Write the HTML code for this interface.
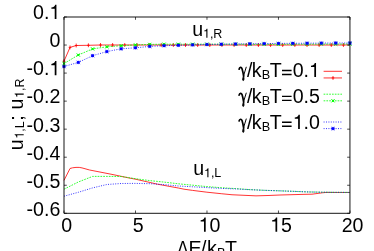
<!DOCTYPE html>
<html><head><meta charset="utf-8"><title>plot</title>
<style>html,body{margin:0;padding:0;background:#fff;overflow:hidden}svg{display:block;will-change:transform}text{font-family:"Liberation Sans",sans-serif;fill:#000}</style></head><body>
<svg width="374" height="251" viewBox="0 0 374 251">
<polyline points="64.00,180.40 70.00,168.50 72.50,167.80 76.00,167.40 79.20,167.40 82.00,167.90 89.60,170.00 112.00,174.40 128.70,177.90 136.00,179.30 157.50,184.20 178.30,188.00 184.00,189.20 192.60,190.40 206.90,192.20 221.20,193.70 232.00,194.75 246.00,195.40 256.00,195.85 268.00,195.50 280.00,195.00 304.00,194.35 312.00,194.20 322.30,192.80 326.00,192.45 349.85,192.50" fill="none" stroke="#ff0000" stroke-width="0.80"/>
<polyline points="64.00,189.20 78.30,182.00 92.59,176.40 106.89,176.40 121.19,176.50 135.49,178.70 149.78,180.60 164.08,182.10 178.38,183.80 192.68,185.20 206.97,186.60 221.27,187.70 235.57,188.60 249.87,189.60 264.16,190.30 278.46,190.80 292.76,191.30 307.06,191.90 321.35,192.20 335.65,192.35 349.95,192.40" fill="none" stroke="#00ff00" stroke-width="0.80" stroke-dasharray="1.7,1.1"/>
<polyline points="64.00,196.20 78.30,192.30 92.59,187.90 106.89,184.50 121.19,183.50 135.49,183.40 149.78,183.70 164.08,184.60 178.38,186.00 192.68,186.80 206.97,187.60 221.27,188.40 235.57,188.90 249.87,189.70 264.16,190.30 278.46,190.80 292.76,191.30 307.06,191.90 321.35,192.20 335.65,192.35 349.95,192.40" fill="none" stroke="#0000ff" stroke-width="0.80" stroke-dasharray="1.0,1.4"/>
<polyline points="64.00,61.20 70.00,47.40 76.20,45.50 88.40,45.30 100.50,45.00 112.60,45.00 124.75,45.00 136.90,45.00 149.05,45.00 161.20,45.00 173.35,45.00 185.50,45.00 197.65,45.00 209.80,45.00 221.95,45.00 234.10,45.00 246.25,45.00 258.40,45.00 270.55,45.00 282.70,45.00 294.85,45.00 307.00,45.00 319.15,45.00 331.30,45.00 343.45,45.00 349.85,44.90" fill="none" stroke="#ff0000" stroke-width="0.80"/>
<path d="M62.70 61.20H65.30M64.00 59.30V63.10" stroke="#ff0000" stroke-width="0.85" fill="none"/>
<path d="M68.70 47.40H71.30M70.00 45.50V49.30" stroke="#ff0000" stroke-width="0.85" fill="none"/>
<path d="M74.90 45.50H77.50M76.20 43.60V47.40" stroke="#ff0000" stroke-width="0.85" fill="none"/>
<path d="M87.10 45.30H89.70M88.40 43.40V47.20" stroke="#ff0000" stroke-width="0.85" fill="none"/>
<path d="M99.20 45.00H101.80M100.50 43.10V46.90" stroke="#ff0000" stroke-width="0.85" fill="none"/>
<path d="M111.30 45.00H113.90M112.60 43.10V46.90" stroke="#ff0000" stroke-width="0.85" fill="none"/>
<path d="M123.45 45.00H126.05M124.75 43.10V46.90" stroke="#ff0000" stroke-width="0.85" fill="none"/>
<path d="M135.60 45.00H138.20M136.90 43.10V46.90" stroke="#ff0000" stroke-width="0.85" fill="none"/>
<path d="M147.75 45.00H150.35M149.05 43.10V46.90" stroke="#ff0000" stroke-width="0.85" fill="none"/>
<path d="M159.90 45.00H162.50M161.20 43.10V46.90" stroke="#ff0000" stroke-width="0.85" fill="none"/>
<path d="M172.05 45.00H174.65M173.35 43.10V46.90" stroke="#ff0000" stroke-width="0.85" fill="none"/>
<path d="M184.20 45.00H186.80M185.50 43.10V46.90" stroke="#ff0000" stroke-width="0.85" fill="none"/>
<path d="M196.35 45.00H198.95M197.65 43.10V46.90" stroke="#ff0000" stroke-width="0.85" fill="none"/>
<path d="M208.50 45.00H211.10M209.80 43.10V46.90" stroke="#ff0000" stroke-width="0.85" fill="none"/>
<path d="M220.65 45.00H223.25M221.95 43.10V46.90" stroke="#ff0000" stroke-width="0.85" fill="none"/>
<path d="M232.80 45.00H235.40M234.10 43.10V46.90" stroke="#ff0000" stroke-width="0.85" fill="none"/>
<path d="M244.95 45.00H247.55M246.25 43.10V46.90" stroke="#ff0000" stroke-width="0.85" fill="none"/>
<path d="M257.10 45.00H259.70M258.40 43.10V46.90" stroke="#ff0000" stroke-width="0.85" fill="none"/>
<path d="M269.25 45.00H271.85M270.55 43.10V46.90" stroke="#ff0000" stroke-width="0.85" fill="none"/>
<path d="M281.40 45.00H284.00M282.70 43.10V46.90" stroke="#ff0000" stroke-width="0.85" fill="none"/>
<path d="M293.55 45.00H296.15M294.85 43.10V46.90" stroke="#ff0000" stroke-width="0.85" fill="none"/>
<path d="M305.70 45.00H308.30M307.00 43.10V46.90" stroke="#ff0000" stroke-width="0.85" fill="none"/>
<path d="M317.85 45.00H320.45M319.15 43.10V46.90" stroke="#ff0000" stroke-width="0.85" fill="none"/>
<path d="M330.00 45.00H332.60M331.30 43.10V46.90" stroke="#ff0000" stroke-width="0.85" fill="none"/>
<path d="M342.15 45.00H344.75M343.45 43.10V46.90" stroke="#ff0000" stroke-width="0.85" fill="none"/>
<polyline points="64.00,63.60 78.30,55.00 92.59,48.90 106.89,46.80 121.19,45.70 135.49,44.90 149.78,44.40 164.08,44.20 178.38,44.20 192.68,44.20 206.97,44.20 221.27,44.20 235.57,44.20 249.87,44.30 264.16,44.30 278.46,44.30 292.76,44.20 307.06,44.20 321.35,44.10 335.65,44.10 349.95,44.00" fill="none" stroke="#00ff00" stroke-width="0.80" stroke-dasharray="1.7,1.1"/>
<path d="M62.40 62.00L65.60 65.20M62.40 65.20L65.60 62.00" stroke="#00ff00" stroke-width="1.0" fill="none"/>
<rect x="63.10" y="62.70" width="1.8" height="1.8" fill="#00ff00"/>
<path d="M76.70 53.40L79.90 56.60M76.70 56.60L79.90 53.40" stroke="#00ff00" stroke-width="1.0" fill="none"/>
<rect x="77.40" y="54.10" width="1.8" height="1.8" fill="#00ff00"/>
<path d="M91.00 47.30L94.19 50.50M91.00 50.50L94.19 47.30" stroke="#00ff00" stroke-width="1.0" fill="none"/>
<rect x="91.69" y="48.00" width="1.8" height="1.8" fill="#00ff00"/>
<path d="M105.29 45.20L108.49 48.40M105.29 48.40L108.49 45.20" stroke="#00ff00" stroke-width="1.0" fill="none"/>
<rect x="105.99" y="45.90" width="1.8" height="1.8" fill="#00ff00"/>
<path d="M119.59 44.10L122.79 47.30M119.59 47.30L122.79 44.10" stroke="#00ff00" stroke-width="1.0" fill="none"/>
<rect x="120.29" y="44.80" width="1.8" height="1.8" fill="#00ff00"/>
<path d="M133.89 43.30L137.09 46.50M133.89 46.50L137.09 43.30" stroke="#00ff00" stroke-width="1.0" fill="none"/>
<rect x="134.59" y="44.00" width="1.8" height="1.8" fill="#00ff00"/>
<path d="M148.19 42.80L151.38 46.00M148.19 46.00L151.38 42.80" stroke="#00ff00" stroke-width="1.0" fill="none"/>
<rect x="148.88" y="43.50" width="1.8" height="1.8" fill="#00ff00"/>
<path d="M162.48 42.60L165.68 45.80M162.48 45.80L165.68 42.60" stroke="#00ff00" stroke-width="1.0" fill="none"/>
<rect x="163.18" y="43.30" width="1.8" height="1.8" fill="#00ff00"/>
<path d="M176.78 42.60L179.98 45.80M176.78 45.80L179.98 42.60" stroke="#00ff00" stroke-width="1.0" fill="none"/>
<rect x="177.48" y="43.30" width="1.8" height="1.8" fill="#00ff00"/>
<path d="M191.08 42.60L194.28 45.80M191.08 45.80L194.28 42.60" stroke="#00ff00" stroke-width="1.0" fill="none"/>
<rect x="191.78" y="43.30" width="1.8" height="1.8" fill="#00ff00"/>
<path d="M205.38 42.60L208.57 45.80M205.38 45.80L208.57 42.60" stroke="#00ff00" stroke-width="1.0" fill="none"/>
<rect x="206.07" y="43.30" width="1.8" height="1.8" fill="#00ff00"/>
<path d="M219.67 42.60L222.87 45.80M219.67 45.80L222.87 42.60" stroke="#00ff00" stroke-width="1.0" fill="none"/>
<rect x="220.37" y="43.30" width="1.8" height="1.8" fill="#00ff00"/>
<path d="M233.97 42.60L237.17 45.80M233.97 45.80L237.17 42.60" stroke="#00ff00" stroke-width="1.0" fill="none"/>
<rect x="234.67" y="43.30" width="1.8" height="1.8" fill="#00ff00"/>
<path d="M248.27 42.70L251.47 45.90M248.27 45.90L251.47 42.70" stroke="#00ff00" stroke-width="1.0" fill="none"/>
<rect x="248.97" y="43.40" width="1.8" height="1.8" fill="#00ff00"/>
<path d="M262.56 42.70L265.76 45.90M262.56 45.90L265.76 42.70" stroke="#00ff00" stroke-width="1.0" fill="none"/>
<rect x="263.26" y="43.40" width="1.8" height="1.8" fill="#00ff00"/>
<path d="M276.86 42.70L280.06 45.90M276.86 45.90L280.06 42.70" stroke="#00ff00" stroke-width="1.0" fill="none"/>
<rect x="277.56" y="43.40" width="1.8" height="1.8" fill="#00ff00"/>
<path d="M291.16 42.60L294.36 45.80M291.16 45.80L294.36 42.60" stroke="#00ff00" stroke-width="1.0" fill="none"/>
<rect x="291.86" y="43.30" width="1.8" height="1.8" fill="#00ff00"/>
<path d="M305.46 42.60L308.66 45.80M305.46 45.80L308.66 42.60" stroke="#00ff00" stroke-width="1.0" fill="none"/>
<rect x="306.16" y="43.30" width="1.8" height="1.8" fill="#00ff00"/>
<path d="M319.75 42.50L322.95 45.70M319.75 45.70L322.95 42.50" stroke="#00ff00" stroke-width="1.0" fill="none"/>
<rect x="320.45" y="43.20" width="1.8" height="1.8" fill="#00ff00"/>
<path d="M334.05 42.50L337.25 45.70M334.05 45.70L337.25 42.50" stroke="#00ff00" stroke-width="1.0" fill="none"/>
<rect x="334.75" y="43.20" width="1.8" height="1.8" fill="#00ff00"/>
<path d="M348.35 42.40L351.55 45.60M348.35 45.60L351.55 42.40" stroke="#00ff00" stroke-width="1.0" fill="none"/>
<rect x="349.05" y="43.10" width="1.8" height="1.8" fill="#00ff00"/>
<polyline points="64.00,66.50 78.30,62.40 92.59,55.70 106.89,51.55 121.19,48.80 135.49,47.80 149.78,46.40 164.08,45.70 178.38,45.30 192.68,44.90 206.97,44.50 221.27,44.20 235.57,44.00 249.87,43.80 264.16,43.60 278.46,43.40 292.76,43.30 307.06,43.20 321.35,43.10 335.65,43.00 349.95,43.00" fill="none" stroke="#0000ff" stroke-width="0.80" stroke-dasharray="1.0,1.4"/>
<path d="M62.20 66.50H65.80M64.00 64.70V68.30M62.20 64.70L65.80 68.30M62.20 68.30L65.80 64.70" stroke="#0000ff" stroke-width="0.5" fill="none"/>
<rect x="62.65" y="65.20" width="2.7" height="2.6" fill="#0000ff"/>
<path d="M76.50 62.40H80.10M78.30 60.60V64.20M76.50 60.60L80.10 64.20M76.50 64.20L80.10 60.60" stroke="#0000ff" stroke-width="0.5" fill="none"/>
<rect x="76.95" y="61.10" width="2.7" height="2.6" fill="#0000ff"/>
<path d="M90.80 55.70H94.39M92.59 53.90V57.50M90.80 53.90L94.39 57.50M90.80 57.50L94.39 53.90" stroke="#0000ff" stroke-width="0.5" fill="none"/>
<rect x="91.25" y="54.40" width="2.7" height="2.6" fill="#0000ff"/>
<path d="M105.09 51.55H108.69M106.89 49.75V53.35M105.09 49.75L108.69 53.35M105.09 53.35L108.69 49.75" stroke="#0000ff" stroke-width="0.5" fill="none"/>
<rect x="105.54" y="50.25" width="2.7" height="2.6" fill="#0000ff"/>
<path d="M119.39 48.80H122.99M121.19 47.00V50.60M119.39 47.00L122.99 50.60M119.39 50.60L122.99 47.00" stroke="#0000ff" stroke-width="0.5" fill="none"/>
<rect x="119.84" y="47.50" width="2.7" height="2.6" fill="#0000ff"/>
<path d="M133.69 47.80H137.29M135.49 46.00V49.60M133.69 46.00L137.29 49.60M133.69 49.60L137.29 46.00" stroke="#0000ff" stroke-width="0.5" fill="none"/>
<rect x="134.14" y="46.50" width="2.7" height="2.6" fill="#0000ff"/>
<path d="M147.98 46.40H151.59M149.78 44.60V48.20M147.98 44.60L151.59 48.20M147.98 48.20L151.59 44.60" stroke="#0000ff" stroke-width="0.5" fill="none"/>
<rect x="148.44" y="45.10" width="2.7" height="2.6" fill="#0000ff"/>
<path d="M162.28 45.70H165.88M164.08 43.90V47.50M162.28 43.90L165.88 47.50M162.28 47.50L165.88 43.90" stroke="#0000ff" stroke-width="0.5" fill="none"/>
<rect x="162.73" y="44.40" width="2.7" height="2.6" fill="#0000ff"/>
<path d="M176.58 45.30H180.18M178.38 43.50V47.10M176.58 43.50L180.18 47.10M176.58 47.10L180.18 43.50" stroke="#0000ff" stroke-width="0.5" fill="none"/>
<rect x="177.03" y="44.00" width="2.7" height="2.6" fill="#0000ff"/>
<path d="M190.88 44.90H194.48M192.68 43.10V46.70M190.88 43.10L194.48 46.70M190.88 46.70L194.48 43.10" stroke="#0000ff" stroke-width="0.5" fill="none"/>
<rect x="191.33" y="43.60" width="2.7" height="2.6" fill="#0000ff"/>
<path d="M205.17 44.50H208.78M206.97 42.70V46.30M205.17 42.70L208.78 46.30M205.17 46.30L208.78 42.70" stroke="#0000ff" stroke-width="0.5" fill="none"/>
<rect x="205.62" y="43.20" width="2.7" height="2.6" fill="#0000ff"/>
<path d="M219.47 44.20H223.07M221.27 42.40V46.00M219.47 42.40L223.07 46.00M219.47 46.00L223.07 42.40" stroke="#0000ff" stroke-width="0.5" fill="none"/>
<rect x="219.92" y="42.90" width="2.7" height="2.6" fill="#0000ff"/>
<path d="M233.77 44.00H237.37M235.57 42.20V45.80M233.77 42.20L237.37 45.80M233.77 45.80L237.37 42.20" stroke="#0000ff" stroke-width="0.5" fill="none"/>
<rect x="234.22" y="42.70" width="2.7" height="2.6" fill="#0000ff"/>
<path d="M248.07 43.80H251.67M249.87 42.00V45.60M248.07 42.00L251.67 45.60M248.07 45.60L251.67 42.00" stroke="#0000ff" stroke-width="0.5" fill="none"/>
<rect x="248.52" y="42.50" width="2.7" height="2.6" fill="#0000ff"/>
<path d="M262.36 43.60H265.96M264.16 41.80V45.40M262.36 41.80L265.96 45.40M262.36 45.40L265.96 41.80" stroke="#0000ff" stroke-width="0.5" fill="none"/>
<rect x="262.81" y="42.30" width="2.7" height="2.6" fill="#0000ff"/>
<path d="M276.66 43.40H280.26M278.46 41.60V45.20M276.66 41.60L280.26 45.20M276.66 45.20L280.26 41.60" stroke="#0000ff" stroke-width="0.5" fill="none"/>
<rect x="277.11" y="42.10" width="2.7" height="2.6" fill="#0000ff"/>
<path d="M290.96 43.30H294.56M292.76 41.50V45.10M290.96 41.50L294.56 45.10M290.96 45.10L294.56 41.50" stroke="#0000ff" stroke-width="0.5" fill="none"/>
<rect x="291.41" y="42.00" width="2.7" height="2.6" fill="#0000ff"/>
<path d="M305.26 43.20H308.86M307.06 41.40V45.00M305.26 41.40L308.86 45.00M305.26 45.00L308.86 41.40" stroke="#0000ff" stroke-width="0.5" fill="none"/>
<rect x="305.71" y="41.90" width="2.7" height="2.6" fill="#0000ff"/>
<path d="M319.55 43.10H323.15M321.35 41.30V44.90M319.55 41.30L323.15 44.90M319.55 44.90L323.15 41.30" stroke="#0000ff" stroke-width="0.5" fill="none"/>
<rect x="320.00" y="41.80" width="2.7" height="2.6" fill="#0000ff"/>
<path d="M333.85 43.00H337.45M335.65 41.20V44.80M333.85 41.20L337.45 44.80M333.85 44.80L337.45 41.20" stroke="#0000ff" stroke-width="0.5" fill="none"/>
<rect x="334.30" y="41.70" width="2.7" height="2.6" fill="#0000ff"/>
<path d="M348.15 43.00H351.75M349.95 41.20V44.80M348.15 41.20L351.75 44.80M348.15 44.80L351.75 41.20" stroke="#0000ff" stroke-width="0.5" fill="none"/>
<rect x="348.60" y="41.70" width="2.7" height="2.6" fill="#0000ff"/>
<polyline points="323.60,71.30 342.00,71.30" fill="none" stroke="#ff0000" stroke-width="0.80"/>
<polyline points="323.60,77.95 342.00,77.95" fill="none" stroke="#ff0000" stroke-width="0.80"/>
<path d="M331.70 77.95H334.30M333.00 76.05V79.85" stroke="#ff0000" stroke-width="0.85" fill="none"/>
<polyline points="323.60,94.20 342.00,94.20" fill="none" stroke="#00ff00" stroke-width="0.80" stroke-dasharray="1.7,1.1"/>
<polyline points="323.60,100.80 342.00,100.80" fill="none" stroke="#00ff00" stroke-width="0.80" stroke-dasharray="1.7,1.1"/>
<path d="M331.40 99.20L334.60 102.40M331.40 102.40L334.60 99.20" stroke="#00ff00" stroke-width="1.0" fill="none"/>
<rect x="332.10" y="99.90" width="1.8" height="1.8" fill="#00ff00"/>
<polyline points="323.60,122.00 342.00,122.00" fill="none" stroke="#0000ff" stroke-width="0.80" stroke-dasharray="1.0,1.4"/>
<polyline points="323.60,128.60 342.00,128.60" fill="none" stroke="#0000ff" stroke-width="0.80" stroke-dasharray="1.0,1.4"/>
<path d="M331.20 128.60H334.80M333.00 126.80V130.40M331.20 126.80L334.80 130.40M331.20 130.40L334.80 126.80" stroke="#0000ff" stroke-width="0.5" fill="none"/>
<rect x="331.65" y="127.30" width="2.7" height="2.6" fill="#0000ff"/>
<path d="M64.00 17.00H349.95V213.30H64.00Z" fill="none" stroke="#000" stroke-width="0.92"/>
<path d="M64.00 17.00h2.80M349.95 17.00h-2.80" stroke="#000" stroke-width="0.7"/>
<path d="M64.00 45.04h2.80M349.95 45.04h-2.80" stroke="#000" stroke-width="0.7"/>
<path d="M64.00 73.09h2.80M349.95 73.09h-2.80" stroke="#000" stroke-width="0.7"/>
<path d="M64.00 101.13h2.80M349.95 101.13h-2.80" stroke="#000" stroke-width="0.7"/>
<path d="M64.00 129.17h2.80M349.95 129.17h-2.80" stroke="#000" stroke-width="0.7"/>
<path d="M64.00 157.21h2.80M349.95 157.21h-2.80" stroke="#000" stroke-width="0.7"/>
<path d="M64.00 185.26h2.80M349.95 185.26h-2.80" stroke="#000" stroke-width="0.7"/>
<path d="M64.00 213.30h2.80M349.95 213.30h-2.80" stroke="#000" stroke-width="0.7"/>
<path d="M64.00 213.30v-2.80M64.00 17.00v2.80" stroke="#000" stroke-width="0.7"/>
<path d="M135.49 213.30v-2.80M135.49 17.00v2.80" stroke="#000" stroke-width="0.7"/>
<path d="M206.97 213.30v-2.80M206.97 17.00v2.80" stroke="#000" stroke-width="0.7"/>
<path d="M278.46 213.30v-2.80M278.46 17.00v2.80" stroke="#000" stroke-width="0.7"/>
<path d="M349.95 213.30v-2.80M349.95 17.00v2.80" stroke="#000" stroke-width="0.7"/>
<path d="M359 0H271V-505H101V-568C200 -575 270 -620 295 -709H359Z" transform="translate(49.40,18.95) scale(0.01960,0.01996)" fill="#000"/>
<text transform="translate(0,18.95) scale(1,1.050)" y="0" x="33.05 43.95" font-size="19.60">0.</text>
<text transform="translate(0,47.10) scale(1,1.050)" y="0" x="49.40" font-size="19.60">0</text>
<path d="M359 0H271V-505H101V-568C200 -575 270 -620 295 -709H359Z" transform="translate(49.40,75.25) scale(0.01960,0.01996)" fill="#000"/>
<text transform="translate(0,75.25) scale(1,1.050)" y="0" x="26.53 33.05 43.95" font-size="19.60">-0.</text>
<text transform="translate(0,103.40) scale(1,1.050)" y="0" x="26.53 33.05 43.95 49.40" font-size="19.60">-0.2</text>
<text transform="translate(0,131.55) scale(1,1.050)" y="0" x="26.53 33.05 43.95 49.40" font-size="19.60">-0.3</text>
<text transform="translate(0,159.70) scale(1,1.050)" y="0" x="26.53 33.05 43.95 49.40" font-size="19.60">-0.4</text>
<text transform="translate(0,187.85) scale(1,1.050)" y="0" x="26.53 33.05 43.95 49.40" font-size="19.60">-0.5</text>
<text transform="translate(0,216.00) scale(1,1.050)" y="0" x="26.53 33.05 43.95 49.40" font-size="19.60">-0.6</text>
<text transform="translate(0,231.70) scale(1,1.050)" y="0" x="61.15" font-size="19.60">0</text>
<text transform="translate(0,231.70) scale(1,1.050)" y="0" x="132.64" font-size="19.60">5</text>
<path d="M359 0H271V-505H101V-568C200 -575 270 -620 295 -709H359Z" transform="translate(198.67,231.70) scale(0.01960,0.01996)" fill="#000"/>
<text transform="translate(0,231.70) scale(1,1.050)" y="0" x="209.57" font-size="19.60">0</text>
<path d="M359 0H271V-505H101V-568C200 -575 270 -620 295 -709H359Z" transform="translate(270.16,231.70) scale(0.01960,0.01996)" fill="#000"/>
<text transform="translate(0,231.70) scale(1,1.050)" y="0" x="281.06" font-size="19.60">5</text>
<text transform="translate(0,231.70) scale(1,1.050)" y="0" x="341.65 352.55" font-size="19.60">20</text>
<text transform="translate(0,35.70) scale(1,1.050)" y="0" x="192.20" font-size="19.60">u</text>
<path d="M359 0H271V-505H101V-568C200 -575 270 -620 295 -709H359Z" transform="translate(202.95,37.70) scale(0.01250,0.01273)" fill="#000"/>
<text transform="translate(0,37.70) scale(1,1.050)" y="0" x="209.90 213.38" font-size="12.50">,R</text>
<text transform="translate(0,175.20) scale(1,1.050)" y="0" x="193.20" font-size="19.60">u</text>
<path d="M359 0H271V-505H101V-568C200 -575 270 -620 295 -709H359Z" transform="translate(203.95,177.20) scale(0.01250,0.01273)" fill="#000"/>
<text transform="translate(0,177.20) scale(1,1.050)" y="0" x="210.90 214.38" font-size="12.50">,L</text>
<g transform="translate(238.7,77.10)" fill="none" stroke="#000" stroke-linecap="round" stroke-linejoin="round"><path d="M0.4,-7.9C0.9,-10.1 2.7,-10.3 3.4,-8.2C4.1,-5.9 4.6,-3.5 4.9,-1.0" stroke-width="1.7"/><path d="M7.5,-9.9L4.9,-1.4" stroke-width="1.0"/><path d="M4.9,-1.4C3.8,1.3 3.6,3.5 4.5,3.5C5.4,3.5 5.6,1.3 4.9,-1.4Z" stroke-width="0.9" fill="#000"/></g>
<text transform="translate(0,77.10) scale(1,1.050)" y="0" x="246.90" font-size="19.60">/</text>
<text transform="translate(0,77.10) scale(1,1.050)" y="0" x="251.70" font-size="19.60">k</text>
<text transform="translate(0,79.20) scale(1,1.050)" y="0" x="261.80" font-size="12.70">B</text>
<text transform="translate(0,77.10) scale(1,1.050)" y="0" x="269.80" font-size="19.60">T</text>
<path d="M282.0 70.45h9.6M282.0 74.45h9.6" stroke="#000" stroke-width="1.45" fill="none"/>
<text transform="translate(0,77.10) scale(1,1.050)" y="0" x="292.80" font-size="19.60">0</text>
<text transform="translate(0,77.10) scale(1,1.050)" y="0" x="303.50" font-size="19.60">.</text>
<path d="M359 0H271V-505H101V-568C200 -575 270 -620 295 -709H359Z" transform="translate(309.00,77.10) scale(0.01960,0.01996)" fill="#000"/>
<g transform="translate(238.7,103.00)" fill="none" stroke="#000" stroke-linecap="round" stroke-linejoin="round"><path d="M0.4,-7.9C0.9,-10.1 2.7,-10.3 3.4,-8.2C4.1,-5.9 4.6,-3.5 4.9,-1.0" stroke-width="1.7"/><path d="M7.5,-9.9L4.9,-1.4" stroke-width="1.0"/><path d="M4.9,-1.4C3.8,1.3 3.6,3.5 4.5,3.5C5.4,3.5 5.6,1.3 4.9,-1.4Z" stroke-width="0.9" fill="#000"/></g>
<text transform="translate(0,103.00) scale(1,1.050)" y="0" x="246.90" font-size="19.60">/</text>
<text transform="translate(0,103.00) scale(1,1.050)" y="0" x="251.70" font-size="19.60">k</text>
<text transform="translate(0,105.10) scale(1,1.050)" y="0" x="261.80" font-size="12.70">B</text>
<text transform="translate(0,103.00) scale(1,1.050)" y="0" x="269.80" font-size="19.60">T</text>
<path d="M282.0 96.35h9.6M282.0 100.35h9.6" stroke="#000" stroke-width="1.45" fill="none"/>
<text transform="translate(0,103.00) scale(1,1.050)" y="0" x="292.80" font-size="19.60">0</text>
<text transform="translate(0,103.00) scale(1,1.050)" y="0" x="303.50" font-size="19.60">.</text>
<text transform="translate(0,103.00) scale(1,1.050)" y="0" x="309.00" font-size="19.60">5</text>
<g transform="translate(238.7,128.90)" fill="none" stroke="#000" stroke-linecap="round" stroke-linejoin="round"><path d="M0.4,-7.9C0.9,-10.1 2.7,-10.3 3.4,-8.2C4.1,-5.9 4.6,-3.5 4.9,-1.0" stroke-width="1.7"/><path d="M7.5,-9.9L4.9,-1.4" stroke-width="1.0"/><path d="M4.9,-1.4C3.8,1.3 3.6,3.5 4.5,3.5C5.4,3.5 5.6,1.3 4.9,-1.4Z" stroke-width="0.9" fill="#000"/></g>
<text transform="translate(0,128.90) scale(1,1.050)" y="0" x="246.90" font-size="19.60">/</text>
<text transform="translate(0,128.90) scale(1,1.050)" y="0" x="251.70" font-size="19.60">k</text>
<text transform="translate(0,131.00) scale(1,1.050)" y="0" x="261.80" font-size="12.70">B</text>
<text transform="translate(0,128.90) scale(1,1.050)" y="0" x="269.80" font-size="19.60">T</text>
<path d="M282.0 122.25h9.6M282.0 126.25h9.6" stroke="#000" stroke-width="1.45" fill="none"/>
<path d="M359 0H271V-505H101V-568C200 -575 270 -620 295 -709H359Z" transform="translate(292.80,128.90) scale(0.01960,0.01996)" fill="#000"/>
<text transform="translate(0,128.90) scale(1,1.050)" y="0" x="303.50" font-size="19.60">.</text>
<text transform="translate(0,128.90) scale(1,1.050)" y="0" x="309.00" font-size="19.60">0</text>
<text transform="translate(177.35,254.90) scale(0.85,1.050)" x="0" y="0" font-size="19.60">Δ</text>
<text transform="translate(0,254.90) scale(1,1.050)" y="0" x="188.40" font-size="19.60">E</text>
<text transform="translate(0,254.90) scale(1,1.050)" y="0" x="201.00" font-size="19.60">/</text>
<text transform="translate(0,254.90) scale(1,1.050)" y="0" x="206.90" font-size="19.60">k</text>
<text transform="translate(0,256.80) scale(1,1.050)" y="0" x="217.00" font-size="12.70">B</text>
<text transform="translate(0,254.90) scale(1,1.050)" y="0" x="224.95" font-size="19.60">T</text>
<g transform="translate(23.15,150.2) rotate(-90)">
<text transform="translate(0,0.00) scale(1,1.050)" y="0" x="0.00" font-size="19.60">u</text>
<path d="M359 0H271V-505H101V-568C200 -575 270 -620 295 -709H359Z" transform="translate(11.50,0.55) scale(0.01250,0.01273)" fill="#000"/>
<text transform="translate(0,0.55) scale(1,1.050)" y="0" x="18.45 21.93" font-size="12.50">,L</text>
<text transform="translate(0,0.00) scale(1,1.050)" y="0" x="29.48" font-size="19.60">;</text>
<text transform="translate(0,0.00) scale(1,1.050)" y="0" x="40.67" font-size="19.60">u</text>
<path d="M359 0H271V-505H101V-568C200 -575 270 -620 295 -709H359Z" transform="translate(52.17,0.55) scale(0.01250,0.01273)" fill="#000"/>
<text transform="translate(0,0.55) scale(1,1.050)" y="0" x="59.12 62.59" font-size="12.50">,R</text>
</g>
</svg></body></html>
